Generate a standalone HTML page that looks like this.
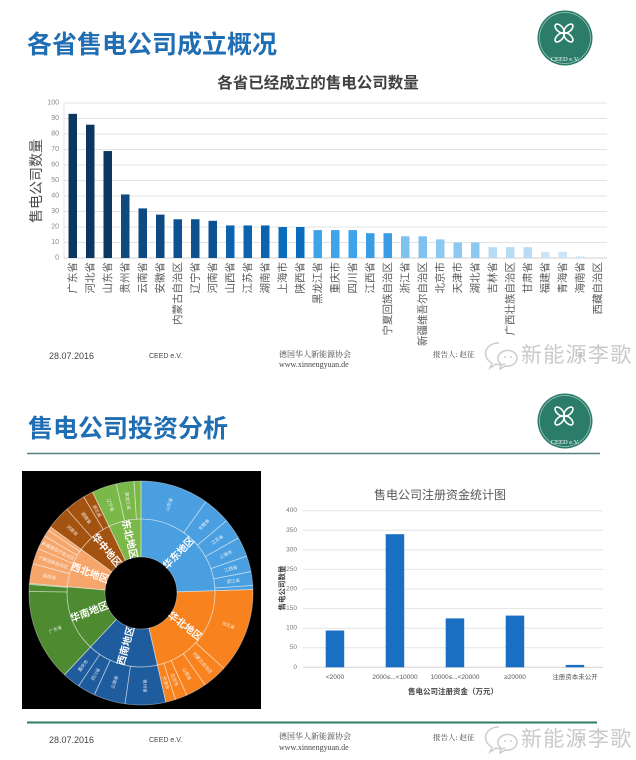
<!DOCTYPE html>
<html><head><meta charset="utf-8"><style>
html,body{margin:0;padding:0;background:#fff;}
svg{display:block;}
text{font-family:"Liberation Sans","Noto Sans CJK SC",sans-serif;}
.sf{font-family:"Liberation Serif","Noto Serif CJK SC",serif;}
</style></head><body>
<svg width="636" height="760" viewBox="0 0 636 760" xmlns="http://www.w3.org/2000/svg">
<rect width="636" height="760" fill="#fff"/>

<!-- ===== Section 1 header ===== -->
<text x="27" y="53" font-size="25" font-weight="bold" fill="#1f6db3">各省售电公司成立概况</text>
<g transform="translate(565,38)">
  <circle r="27.5" fill="#2b7c69"/>
  <circle r="25.5" fill="none" stroke="#d6e8e1" stroke-width="0.7" opacity="0.7"/>
  <g transform="translate(-1,-5)" fill="none" stroke="#fff" stroke-width="1.6">
    <ellipse cx="-4.5" cy="-4.5" rx="5.5" ry="3" transform="rotate(45 -4.5 -4.5)"/>
    <ellipse cx="4.5" cy="-4.5" rx="5.5" ry="3" transform="rotate(-45 4.5 -4.5)"/>
    <ellipse cx="-4.5" cy="4.5" rx="5.5" ry="3" transform="rotate(-45 -4.5 4.5)"/>
    <ellipse cx="4.5" cy="4.5" rx="5.5" ry="3" transform="rotate(45 4.5 4.5)"/>
  </g>
  <text class="sf" x="0" y="23" font-size="6.5" fill="#fff" text-anchor="middle">CEED e.V.</text>
</g>

<!-- ===== Chart 1 ===== -->
<text x="318" y="88" font-size="15.5" font-weight="bold" fill="#404040" text-anchor="middle">各省已经成立的售电公司数量</text>
<g stroke="#e3e3e3" stroke-width="1">
  <line x1="64" x2="607" y1="103" y2="103"/>
  <line x1="64" x2="607" y1="118.5" y2="118.5"/>
  <line x1="64" x2="607" y1="134" y2="134"/>
  <line x1="64" x2="607" y1="149.5" y2="149.5"/>
  <line x1="64" x2="607" y1="165" y2="165"/>
  <line x1="64" x2="607" y1="180.5" y2="180.5"/>
  <line x1="64" x2="607" y1="196" y2="196"/>
  <line x1="64" x2="607" y1="211.5" y2="211.5"/>
  <line x1="64" x2="607" y1="227" y2="227"/>
  <line x1="64" x2="607" y1="242.5" y2="242.5"/>
  <line x1="64" x2="64" y1="103" y2="258"/>
</g>
<line x1="64" x2="607" y1="258" y2="258" stroke="#d2d2d2" stroke-width="1"/>
<g font-size="7" fill="#888" text-anchor="end" dominant-baseline="central">
  <text x="59" y="103">100</text><text x="59" y="118.5">90</text><text x="59" y="134">80</text>
  <text x="59" y="149.5">70</text><text x="59" y="165">60</text><text x="59" y="180.5">50</text>
  <text x="59" y="196">40</text><text x="59" y="211.5">30</text><text x="59" y="227">20</text>
  <text x="59" y="242.5">10</text><text x="59" y="258">0</text>
</g>
<text transform="translate(36,181) rotate(-90)" font-size="14" fill="#4a4a4a" text-anchor="middle" dominant-baseline="central">售电公司数量</text>

<g>
  <rect x="68.5" y="113.85" width="8.5" height="144.15" fill="#0b365d"/>
  <rect x="86" y="124.7" width="8.5" height="133.3" fill="#0b365d"/>
  <rect x="103.5" y="151.05" width="8.5" height="106.95" fill="#0b365d"/>
  <rect x="121" y="194.45" width="8.5" height="63.55" fill="#0e4a7f"/>
  <rect x="138.5" y="208.4" width="8.5" height="49.6" fill="#0e4a7f"/>
  <rect x="156" y="214.6" width="8.5" height="43.4" fill="#0e4a7f"/>
  <rect x="173.5" y="219.25" width="8.5" height="38.75" fill="#0e5190"/>
  <rect x="191" y="219.25" width="8.5" height="38.75" fill="#0e5190"/>
  <rect x="208.5" y="220.8" width="8.5" height="37.2" fill="#0e5190"/>
  <rect x="226" y="225.45" width="8.5" height="32.55" fill="#0c63ad"/>
  <rect x="243.5" y="225.45" width="8.5" height="32.55" fill="#0c63ad"/>
  <rect x="261" y="225.45" width="8.5" height="32.55" fill="#0c63ad"/>
  <rect x="278.5" y="227" width="8.5" height="31" fill="#0b6cbd"/>
  <rect x="296" y="227" width="8.5" height="31" fill="#0b6cbd"/>
  <rect x="313.5" y="230.1" width="8.5" height="27.9" fill="#3da4ec"/>
  <rect x="331" y="230.1" width="8.5" height="27.9" fill="#3da4ec"/>
  <rect x="348.5" y="230.1" width="8.5" height="27.9" fill="#3da4ec"/>
  <rect x="366" y="233.2" width="8.5" height="24.8" fill="#3a9de4"/>
  <rect x="383.5" y="233.2" width="8.5" height="24.8" fill="#3a9de4"/>
  <rect x="401" y="236.3" width="8.5" height="21.7" fill="#7fc2ef"/>
  <rect x="418.5" y="236.3" width="8.5" height="21.7" fill="#7fc2ef"/>
  <rect x="436" y="239.4" width="8.5" height="18.6" fill="#8cc9f1"/>
  <rect x="453.5" y="242.5" width="8.5" height="15.5" fill="#8cc9f1"/>
  <rect x="471" y="242.5" width="8.5" height="15.5" fill="#8cc9f1"/>
  <rect x="488.5" y="247.15" width="8.5" height="10.85" fill="#b8dcf5"/>
  <rect x="506" y="247.15" width="8.5" height="10.85" fill="#b8dcf5"/>
  <rect x="523.5" y="247.15" width="8.5" height="10.85" fill="#b8dcf5"/>
  <rect x="541" y="251.8" width="8.5" height="6.2" fill="#cbe5f7"/>
  <rect x="558.5" y="251.8" width="8.5" height="6.2" fill="#cbe5f7"/>
  <rect x="576" y="256.45" width="8.5" height="1.55" fill="#cbe5f7"/>
</g>
<g font-size="10.5" fill="#595959" text-anchor="end" dominant-baseline="central">
  <text transform="translate(72.75,262) rotate(-90)">广东省</text>
  <text transform="translate(90.25,262) rotate(-90)">河北省</text>
  <text transform="translate(107.75,262) rotate(-90)">山东省</text>
  <text transform="translate(125.25,262) rotate(-90)">贵州省</text>
  <text transform="translate(142.75,262) rotate(-90)">云南省</text>
  <text transform="translate(160.25,262) rotate(-90)">安徽省</text>
  <text transform="translate(177.75,262) rotate(-90)">内蒙古自治区</text>
  <text transform="translate(195.25,262) rotate(-90)">辽宁省</text>
  <text transform="translate(212.75,262) rotate(-90)">河南省</text>
  <text transform="translate(230.25,262) rotate(-90)">山西省</text>
  <text transform="translate(247.75,262) rotate(-90)">江苏省</text>
  <text transform="translate(265.25,262) rotate(-90)">湖南省</text>
  <text transform="translate(282.75,262) rotate(-90)">上海市</text>
  <text transform="translate(300.25,262) rotate(-90)">陕西省</text>
  <text transform="translate(317.75,262) rotate(-90)">黑龙江省</text>
  <text transform="translate(335.25,262) rotate(-90)">重庆市</text>
  <text transform="translate(352.75,262) rotate(-90)">四川省</text>
  <text transform="translate(370.25,262) rotate(-90)">江西省</text>
  <text transform="translate(387.75,262) rotate(-90)">宁夏回族自治区</text>
  <text transform="translate(405.25,262) rotate(-90)">浙江省</text>
  <text transform="translate(422.75,262) rotate(-90)">新疆维吾尔自治区</text>
  <text transform="translate(440.25,262) rotate(-90)">北京市</text>
  <text transform="translate(457.75,262) rotate(-90)">天津市</text>
  <text transform="translate(475.25,262) rotate(-90)">湖北省</text>
  <text transform="translate(492.75,262) rotate(-90)">吉林省</text>
  <text transform="translate(510.25,262) rotate(-90)">广西壮族自治区</text>
  <text transform="translate(527.75,262) rotate(-90)">甘肃省</text>
  <text transform="translate(545.25,262) rotate(-90)">福建省</text>
  <text transform="translate(562.75,262) rotate(-90)">青海省</text>
  <text transform="translate(580.25,262) rotate(-90)">海南省</text>
  <text transform="translate(597.75,262) rotate(-90)">西藏自治区</text>
</g>

<!-- ===== Footer 1 ===== -->
<text x="49" y="359" font-size="9" fill="#444">28.07.2016</text>
<text x="149" y="358" font-size="7" fill="#444">CEED e.V.</text>
<text class="sf" x="279" y="357" font-size="8" fill="#444">德国华人新能源协会</text>
<text class="sf" x="279" y="367" font-size="8" fill="#444">www.xinnengyuan.de</text>
<text class="sf" x="433" y="357" font-size="7.5" fill="#444">报告人: 赵征</text>
<text x="578" y="358" font-size="8" fill="#999">8</text>
<g fill="none" stroke="#cdcdcd" stroke-width="1.5">
  <path d="M499,343 C489,343 484,350 486,356 C487,360 490,362 492,363 L490,368 L496,364 C499,365 502,365 505,364"/>
  <path d="M504,351 C511,349 518,353 517,359 C516,364 511,367 505,366 L500,369 L501,364 C497,362 496,354 504,351 Z"/>
</g>
<circle cx="505" cy="357" r="1" fill="#cdcdcd"/><circle cx="511" cy="357" r="1" fill="#cdcdcd"/>
<text x="521" y="362" font-size="21" fill="#c9c9c9" letter-spacing="1.3">新能源李歌</text>

<!-- ===== Section 2 header ===== -->
<text x="28" y="437" font-size="25" font-weight="bold" fill="#1f6db3">售电公司投资分析</text>
<g transform="translate(565,421)">
  <circle r="27.5" fill="#2b7c69"/>
  <circle r="25.5" fill="none" stroke="#d6e8e1" stroke-width="0.7" opacity="0.7"/>
  <g transform="translate(-1,-5)" fill="none" stroke="#fff" stroke-width="1.6">
    <ellipse cx="-4.5" cy="-4.5" rx="5.5" ry="3" transform="rotate(45 -4.5 -4.5)"/>
    <ellipse cx="4.5" cy="-4.5" rx="5.5" ry="3" transform="rotate(-45 4.5 -4.5)"/>
    <ellipse cx="-4.5" cy="4.5" rx="5.5" ry="3" transform="rotate(-45 -4.5 4.5)"/>
    <ellipse cx="4.5" cy="4.5" rx="5.5" ry="3" transform="rotate(45 4.5 4.5)"/>
  </g>
  <text class="sf" x="0" y="23" font-size="6.5" fill="#fff" text-anchor="middle">CEED e.V.</text>
</g>
<line x1="27" x2="600" y1="453.5" y2="453.5" stroke="#557f82" stroke-width="1.5"/>

<!-- ===== Sunburst ===== -->
<rect x="22" y="471" width="239" height="238" fill="#000"/>
<g fill="none" stroke-width="38">
  <circle cx="141" cy="593" r="55" pathLength="360" stroke="#4a9fe0" stroke-dasharray="88.6 400" transform="rotate(-90 141 593)"/>
  <circle cx="141" cy="593" r="55" pathLength="360" stroke="#f7821e" stroke-dasharray="79.4 400" transform="rotate(-1.795 141 593)"/>
  <circle cx="141" cy="593" r="55" pathLength="360" stroke="#1f5c9e" stroke-dasharray="56.3 400" transform="rotate(77.179 141 593)"/>
  <circle cx="141" cy="593" r="55" pathLength="360" stroke="#4e8a2f" stroke-dasharray="52.2 400" transform="rotate(133.077 141 593)"/>
  <circle cx="141" cy="593" r="55" pathLength="360" stroke="#f6a56b" stroke-dasharray="31.7 400" transform="rotate(184.872 141 593)"/>
  <circle cx="141" cy="593" r="55" pathLength="360" stroke="#a4520f" stroke-dasharray="28.6 400" transform="rotate(216.154 141 593)"/>
  <circle cx="141" cy="593" r="55" pathLength="360" stroke="#7bb84a" stroke-dasharray="25.7 400" transform="rotate(244.359 141 593)"/>

  <circle cx="141" cy="593" r="93" pathLength="360" stroke="#4a9fe0" stroke-dasharray="88.6 400" transform="rotate(-90 141 593)"/>
  <circle cx="141" cy="593" r="93" pathLength="360" stroke="#f7821e" stroke-dasharray="79.4 400" transform="rotate(-1.795 141 593)"/>
  <circle cx="141" cy="593" r="93" pathLength="360" stroke="#1f5c9e" stroke-dasharray="56.3 400" transform="rotate(77.179 141 593)"/>
  <circle cx="141" cy="593" r="93" pathLength="360" stroke="#4e8a2f" stroke-dasharray="52.2 400" transform="rotate(133.077 141 593)"/>
  <circle cx="141" cy="593" r="93" pathLength="360" stroke="#f6a56b" stroke-dasharray="31.7 400" transform="rotate(184.872 141 593)"/>
  <circle cx="141" cy="593" r="93" pathLength="360" stroke="#a4520f" stroke-dasharray="28.6 400" transform="rotate(216.154 141 593)"/>
  <circle cx="141" cy="593" r="93" pathLength="360" stroke="#7bb84a" stroke-dasharray="25.7 400" transform="rotate(244.359 141 593)"/>
</g>
<g transform="translate(141,593)" stroke="#fff" stroke-opacity="0.7" stroke-width="0.8" fill="none">
  <circle r="74"/>
  <circle r="112" stroke-opacity="0.4"/>
  <circle r="36" stroke-opacity="0.4"/>
  <line y1="-36" y2="-112" transform="rotate(0)"/>
  <line y1="-36" y2="-112" transform="rotate(88.205)"/>
  <line y1="-36" y2="-112" transform="rotate(167.179)"/>
  <line y1="-36" y2="-112" transform="rotate(223.077)"/>
  <line y1="-36" y2="-112" transform="rotate(274.872)"/>
  <line y1="-36" y2="-112" transform="rotate(306.154)"/>
  <line y1="-36" y2="-112" transform="rotate(334.359)"/>
  <line y1="-74" y2="-112" transform="rotate(35.385)"/>
  <line y1="-74" y2="-112" transform="rotate(49.744)"/>
  <line y1="-74" y2="-112" transform="rotate(60.513)"/>
  <line y1="-74" y2="-112" transform="rotate(70.769)"/>
  <line y1="-74" y2="-112" transform="rotate(78.974)"/>
  <line y1="-74" y2="-112" transform="rotate(86.154)"/>
  <line y1="-74" y2="-112" transform="rotate(132.308)"/>
  <line y1="-74" y2="-112" transform="rotate(145.128)"/>
  <line y1="-74" y2="-112" transform="rotate(155.897)"/>
  <line y1="-74" y2="-112" transform="rotate(162.051)"/>
  <line y1="-74" y2="-112" transform="rotate(188.205)"/>
  <line y1="-74" y2="-112" transform="rotate(204.615)"/>
  <line y1="-74" y2="-112" transform="rotate(213.846)"/>
  <line y1="-74" y2="-112" transform="rotate(270.769)"/>
  <line y1="-74" y2="-112" transform="rotate(274.359)"/>
  <line y1="-74" y2="-112" transform="rotate(285.128)"/>
  <line y1="-74" y2="-112" transform="rotate(293.333)"/>
  <line y1="-74" y2="-112" transform="rotate(300.513)"/>
  <line y1="-74" y2="-112" transform="rotate(304.103)"/>
  <line y1="-74" y2="-112" transform="rotate(318.462)"/>
  <line y1="-74" y2="-112" transform="rotate(329.231)"/>
  <line y1="-74" y2="-112" transform="rotate(347.179)"/>
  <line y1="-74" y2="-112" transform="rotate(356.410)"/>
</g>
<g font-size="10" font-weight="bold" fill="#fff" text-anchor="middle" dominant-baseline="central">
  <text transform="translate(141,593) rotate(-45.9) translate(55,0)">华东地区</text>
  <text transform="translate(141,593) rotate(37.7) translate(55,0)">华北地区</text>
  <text transform="translate(141,593) rotate(105.1) translate(55,0) rotate(180)">西南地区</text>
  <text transform="translate(141,593) rotate(159) translate(55,0) rotate(180)">华南地区</text>
  <text transform="translate(141,593) rotate(200.5) translate(55,0) rotate(180)">西北地区</text>
  <text transform="translate(141,593) rotate(230.3) translate(55,0) rotate(180)">华中地区</text>
  <text transform="translate(141,593) rotate(257.2) translate(55,0) rotate(180)">东北地区</text>
</g>
<g font-size="4.5" fill="#fff" fill-opacity="0.85" text-anchor="middle" dominant-baseline="central">
  <text transform="translate(141,593) rotate(-72.3) translate(93,0)">山东省</text>
  <text transform="translate(141,593) rotate(-47.4) translate(93,0)">安徽省</text>
  <text transform="translate(141,593) rotate(-34.9) translate(93,0)">江苏省</text>
  <text transform="translate(141,593) rotate(-24.4) translate(93,0)">上海市</text>
  <text transform="translate(141,593) rotate(-15.1) translate(93,0)">江西省</text>
  <text transform="translate(141,593) rotate(-7.4) translate(93,0)">浙江省</text>
  <text transform="translate(141,593) rotate(20.3) translate(93,0)">河北省</text>
  <text transform="translate(141,593) rotate(48.7) translate(93,0)">内蒙古自治区</text>
  <text transform="translate(141,593) rotate(60.5) translate(93,0)">山西省</text>
  <text transform="translate(141,593) rotate(69) translate(93,0)">北京市</text>
  <text transform="translate(141,593) rotate(74.6) translate(93,0)">天津市</text>
  <text transform="translate(141,593) rotate(87.7) translate(93,0)">贵州省</text>
  <text transform="translate(141,593) rotate(106.4) translate(93,0) rotate(180)">云南省</text>
  <text transform="translate(141,593) rotate(119.2) translate(93,0) rotate(180)">四川省</text>
  <text transform="translate(141,593) rotate(128.5) translate(93,0) rotate(180)">重庆市</text>
  <text transform="translate(141,593) rotate(156.9) translate(93,0) rotate(180)">广东省</text>
  <text transform="translate(141,593) rotate(190) translate(93,0) rotate(180)">陕西省</text>
  <text transform="translate(141,593) rotate(199.2) translate(93,0) rotate(180)">宁夏回族自治区</text>
  <text transform="translate(141,593) rotate(206.9) translate(93,0) rotate(180)">新疆维吾尔自治区</text>
  <text transform="translate(141,593) rotate(222.3) translate(93,0) rotate(180)">河南省</text>
  <text transform="translate(141,593) rotate(233.8) translate(93,0) rotate(180)">湖南省</text>
  <text transform="translate(141,593) rotate(241.8) translate(93,0) rotate(180)">湖北省</text>
  <text transform="translate(141,593) rotate(250.8) translate(93,0) rotate(180)">辽宁省</text>
  <text transform="translate(141,593) rotate(261.8) translate(93,0) rotate(180)">黑龙江省</text>
</g>

<!-- ===== Chart 2 ===== -->
<text x="440" y="499" font-size="12" fill="#595959" text-anchor="middle">售电公司注册资金统计图</text>
<g stroke="#e4e4e4" stroke-width="1">
  <line x1="303" x2="603" y1="510.7" y2="510.7"/>
  <line x1="303" x2="603" y1="530.3" y2="530.3"/>
  <line x1="303" x2="603" y1="549.9" y2="549.9"/>
  <line x1="303" x2="603" y1="569.4" y2="569.4"/>
  <line x1="303" x2="603" y1="589" y2="589"/>
  <line x1="303" x2="603" y1="608.6" y2="608.6"/>
  <line x1="303" x2="603" y1="628.2" y2="628.2"/>
  <line x1="303" x2="603" y1="647.7" y2="647.7"/>
</g>
<line x1="303" x2="603" y1="667.3" y2="667.3" stroke="#d4d4d4" stroke-width="1"/>
<g font-size="6.5" fill="#777" text-anchor="end" dominant-baseline="central">
  <text x="297" y="510.7">400</text><text x="297" y="530.3">350</text><text x="297" y="549.9">300</text>
  <text x="297" y="569.4">250</text><text x="297" y="589">200</text><text x="297" y="608.6">150</text>
  <text x="297" y="628.2">100</text><text x="297" y="647.7">50</text><text x="297" y="667.3">0</text>
</g>
<g fill="#1a6fc2">
  <rect x="325.7" y="630.5" width="18.5" height="36.8"/>
  <rect x="385.7" y="534.2" width="18.5" height="133.1"/>
  <rect x="445.7" y="618.4" width="18.5" height="48.9"/>
  <rect x="505.7" y="615.6" width="18.5" height="51.7"/>
  <rect x="565.7" y="664.9" width="18.5" height="2.4"/>
</g>
<g font-size="6.5" fill="#555" text-anchor="middle">
  <text x="335" y="679">&lt;2000</text>
  <text x="395" y="679">2000≤...&lt;10000</text>
  <text x="455" y="679">10000≤...&lt;20000</text>
  <text x="515" y="679">≥20000</text>
  <text x="575" y="679">注册资本未公开</text>
</g>
<text x="453" y="694" font-size="7.5" font-weight="bold" fill="#444" text-anchor="middle">售电公司注册资金（万元）</text>
<text transform="translate(282,588) rotate(-90)" font-size="7.5" font-weight="bold" fill="#444" text-anchor="middle" dominant-baseline="central">售电公司数量</text>

<!-- ===== Footer 2 ===== -->
<line x1="27" x2="597" y1="722.5" y2="722.5" stroke="#2e7d62" stroke-width="2"/>
<text x="49" y="743" font-size="9" fill="#444">28.07.2016</text>
<text x="149" y="742" font-size="7" fill="#444">CEED e.V.</text>
<text class="sf" x="279" y="739" font-size="8" fill="#444">德国华人新能源协会</text>
<text class="sf" x="279" y="750" font-size="8" fill="#444">www.xinnengyuan.de</text>
<text class="sf" x="433" y="740" font-size="7.5" fill="#444">报告人: 赵征</text>
<text x="578" y="742" font-size="8" fill="#999">9</text>
<g fill="none" stroke="#cdcdcd" stroke-width="1.5">
  <path d="M499,727 C489,727 484,734 486,740 C487,744 490,746 492,747 L490,752 L496,748 C499,749 502,749 505,748"/>
  <path d="M504,735 C511,733 518,737 517,743 C516,748 511,751 505,750 L500,753 L501,748 C497,746 496,738 504,735 Z"/>
</g>
<circle cx="505" cy="741" r="1" fill="#cdcdcd"/><circle cx="511" cy="741" r="1" fill="#cdcdcd"/>
<text x="521" y="746" font-size="21" fill="#c9c9c9" letter-spacing="1.3">新能源李歌</text>
</svg>
</body></html>
